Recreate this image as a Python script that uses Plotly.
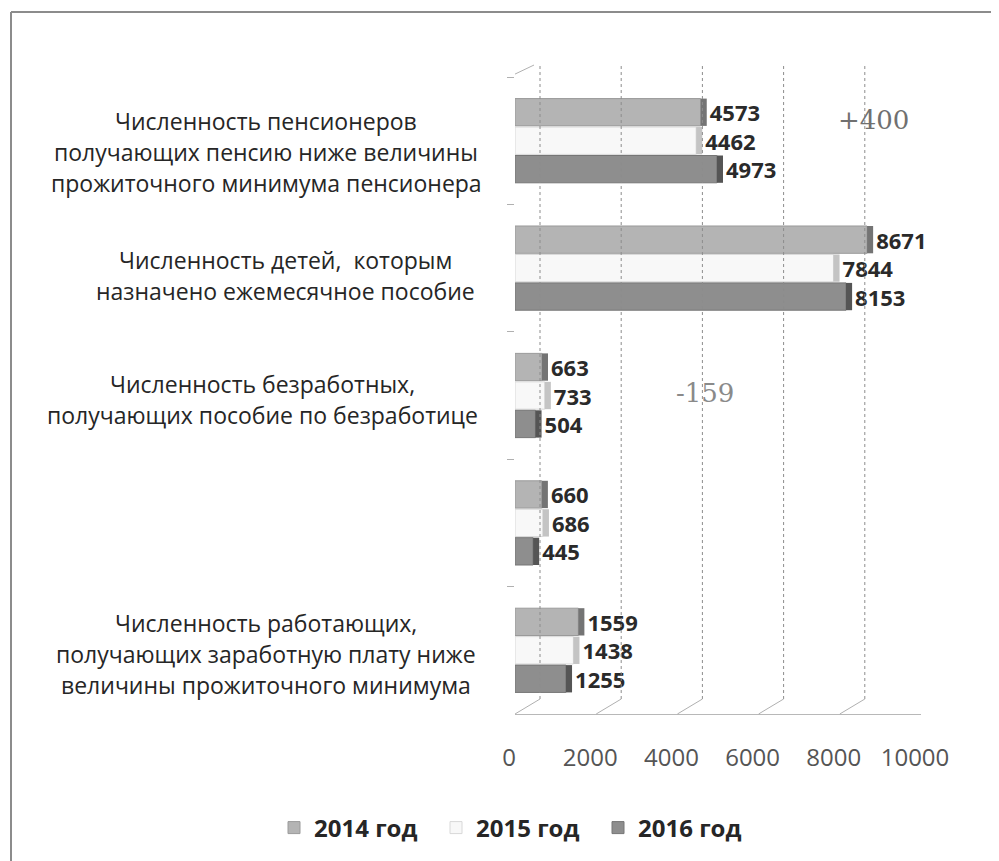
import plotly.graph_objects as go

# ---- data ----
categories = [
    "Численность пенсионеров<br>получающих пенсию ниже величины<br>прожиточного минимума пенсионера",
    "Численность детей,  которым<br>назначено ежемесячное пособие",
    "Численность безработных,<br>получающих пособие по безработице",
    " ",
    "Численность работающих,<br>получающих заработную плату ниже<br>величины прожиточного минимума",
]
series_names = ["2014 год", "2015 год", "2016 год"]
v2014 = [4573, 8671, 663, 660, 1559]
v2015 = [4462, 7844, 733, 686, 1438]
v2016 = [4973, 8153, 504, 445, 1255]
x_ticks = [0, 2000, 4000, 6000, 8000, 10000]
x_ticktext = ["0", "2000", "4000", "6000", "8000", "10000"]

fill_colors = ["#b4b4b4", "#f8f8f8", "#8e8e8e"]
edge_colors = ["#9a9a9a", "#d8d8d8", "#767676"]
side_colors = ["#747474", "#c4c4c4", "#555555"]
SIDE = 150   # depth of the pseudo-3D bar end, in axis units

OFF = 8                      # browser body margin
W, H = 999 - OFF, 861 - OFF
L = 515 - OFF
R = W - (921 - OFF)
T = 77 - OFF
B = H - (715 - OFF)
plot_w = W - L - R
plot_h = H - T - B

def py2paper(py):            # py: reference-image pixel row
    return (H - B - (py - OFF)) / plot_h

def px2paper(px):            # px: reference-image pixel column
    return ((px - OFF) - L) / plot_w

fig = go.Figure()
for k, (name, vals, fc, ec, sc) in enumerate(
        zip(series_names, [v2014, v2015, v2016], fill_colors, edge_colors, side_colors)):
    fig.add_trace(go.Bar(
        y=categories, x=vals, orientation="h", name=name, offsetgroup=str(k),
        marker=dict(color=fc, line=dict(color=ec, width=1)),
    ))
    fig.add_trace(go.Bar(
        y=categories, x=[SIDE] * len(vals), base=vals, orientation="h",
        offsetgroup=str(k), showlegend=False, name=name + " ",
        marker=dict(color=sc, line=dict(width=0)),
        text=[str(v) for v in vals], textposition="outside", constraintext="none",
        textfont=dict(family="Open Sans", size=22, color="#2a2a2a", weight="bold"),
        cliponaxis=False,
    ))

shapes = []
DX = 25
back_bottom = py2paper(700)
back_top = py2paper(65)
for v in x_ticks:
    shapes.append(dict(type="line", xref="x", yref="paper", xsizemode="pixel", xanchor=v,
                       x0=DX, x1=DX, y0=back_bottom, y1=back_top,
                       line=dict(color="#8c8c8c", width=1, dash="dot")))
    shapes.append(dict(type="line", xref="x", yref="paper", xsizemode="pixel", xanchor=v,
                       x0=0, x1=DX, y0=0, y1=back_bottom,
                       line=dict(color="#b0b0b0", width=1)))
shapes.append(dict(type="line", xref="x", yref="paper", xsizemode="pixel", xanchor=x_ticks[0],
                   x0=-4, x1=DX - 6, y0=py2paper(76), y1=back_top,
                   line=dict(color="#b0b0b0", width=1)))
# frame (top & left edges of the chart border)
shapes.append(dict(type="line", xref="paper", yref="paper",
                   x0=px2paper(11), x1=px2paper(1000), y0=py2paper(12), y1=py2paper(12),
                   line=dict(color="#8c8c8c", width=2)))
shapes.append(dict(type="line", xref="paper", yref="paper",
                   x0=px2paper(11), x1=px2paper(11), y0=py2paper(12), y1=py2paper(870),
                   line=dict(color="#8c8c8c", width=2)))

annotations = []
label_cx = [266, 285, 262, 266, 266]
label_dy = [-11, -7, -4, 0, -4]
LINE = 31
for cat, cx, dy in zip(categories, label_cx, label_dy):
    lines = [s for s in cat.split("<br>") if s.strip()]
    n = len(lines)
    for i, line in enumerate(lines):
        annotations.append(dict(
            xref="paper", yref="y", x=px2paper(cx), y=cat,
            yshift=dy + ((n - 1) / 2 - i) * LINE,
            text=line, showarrow=False, xanchor="center", yanchor="middle",
            font=dict(family="Open Sans", size=23, color="#262626"),
        ))
annotations.append(dict(xref="x", yref="y", x=8820, y=categories[0], yshift=21,
                        text=f"+{v2016[0] - v2014[0]}", showarrow=False,
                        font=dict(family="DejaVu Serif", size=26, color="#707070")))
annotations.append(dict(xref="x", yref="y", x=4680, y=categories[2], yshift=3,
                        text=f"-{v2014[2] - v2016[2]}", showarrow=False,
                        font=dict(family="DejaVu Serif", size=26, color="#8a8a8a")))

fig.update_layout(
    width=W, height=H,
    margin=dict(l=L, r=R, t=T, b=B),
    paper_bgcolor="white", plot_bgcolor="rgba(0,0,0,0)",
    barmode="group", bargap=0.33, bargroupgap=0.04,
    shapes=shapes, annotations=annotations,
    legend=dict(orientation="h", x=px2paper(274), xanchor="left",
                y=py2paper(828), yanchor="middle",
                font=dict(family="Open Sans", size=24, color="#262626", weight="bold"),
                entrywidth=117, bgcolor="rgba(0,0,0,0)"),
    showlegend=True,
)
fig.update_xaxes(range=[0, 10000], tickvals=x_ticks, ticktext=x_ticktext,
                 showgrid=False, zeroline=False, tickangle=0,
                 showline=True, linecolor="#b8b8b8", linewidth=1,
                 ticks="", ticklabelstandoff=22, ticklabelshift=-6,
                 tickfont=dict(family="Open Sans", size=24, color="#555555"))
fig.update_yaxes(autorange="reversed", showticklabels=False, showgrid=False, zeroline=False,
                 tickson="boundaries", ticks="outside", ticklen=7, tickcolor="#b0b0b0",
                 showline=False)

fig.write_html("out.html")
